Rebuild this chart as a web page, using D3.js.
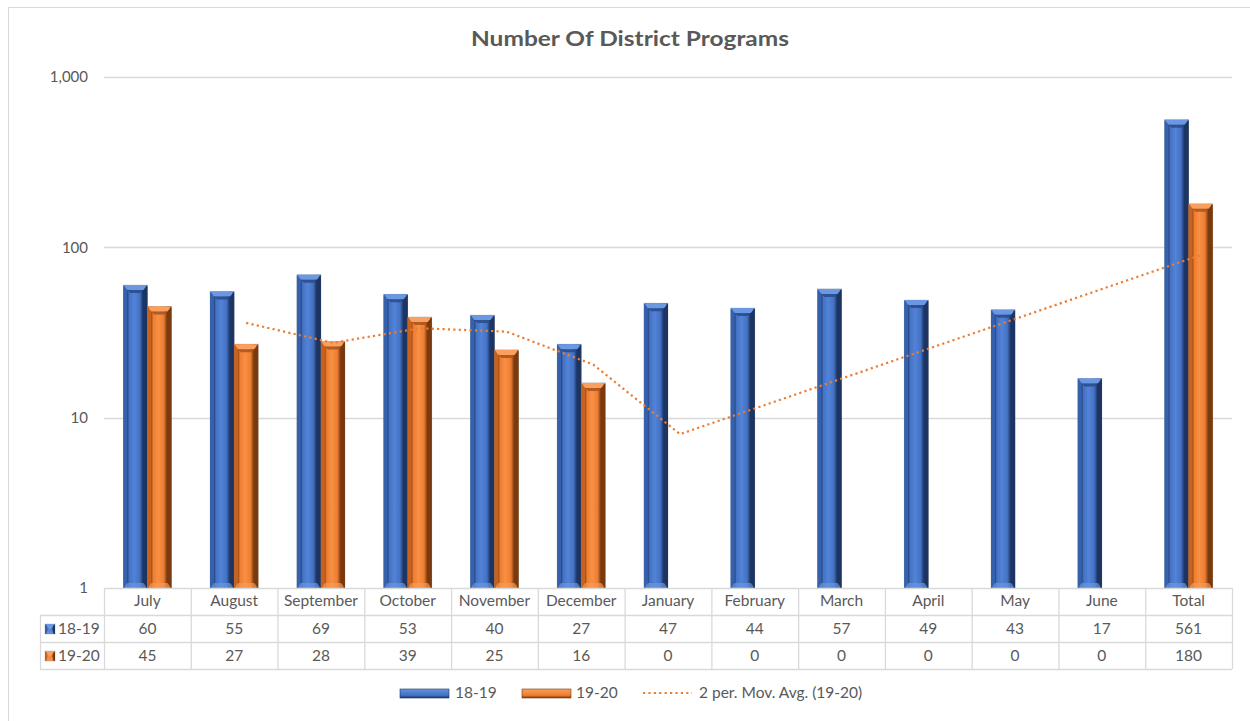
<!DOCTYPE html>
<html>
<head>
<meta charset="utf-8">
<script src="https://cdn.jsdelivr.net/npm/d3@7"></script>
<style>
  html, body { margin: 0; padding: 0; background: #fff; }
  svg text { font-family: Lato, "Liberation Sans", sans-serif; fill: #595959; }
</style>
</head>
<body>
<svg id="chart" width="1250" height="721"></svg>
<script>
// ---- data ----
const categories = ["July","August","September","October","November","December","January","February","March","April","May","June","Total"];
const series1819 = [60, 55, 69, 53, 40, 27, 47, 44, 57, 49, 43, 17, 561];
const series1920 = [45, 27, 28, 39, 25, 16, 0, 0, 0, 0, 0, 0, 180];
// 2-period moving average of 19-20 (null = no value, 0 not plottable on log axis)
const movAvg1920 = [null, 36, 27.5, 33.5, 32, 20.5, 8, 0, 0, 0, 0, 0, 90];
const yTicks = [1, 10, 100, 1000];
const seriesNames = ["18-19", "19-20"];
const trendName = "2 per. Mov. Avg. (19-20)";
const title = "Number Of District Programs";

// ---- layout ----
const svg = d3.select("#chart");
const plotLeft = 104, plotRight = 1232, plotTop = 77, plotBottom = 588;
const rowH = 27;
const tableLeft = 40;
const fs = "15.5px";

const x = d3.scaleBand().domain(categories).range([plotLeft, plotRight]).paddingInner(0).paddingOuter(0);
const y = d3.scaleLog().domain([1, 1000]).range([plotBottom, plotTop]);
const barW = x.bandwidth() * 0.277;

// outer border
svg.append("rect").attr("x", 8.5).attr("y", 7.5).attr("width", 1250).attr("height", 730)
  .attr("fill", "#fff").attr("stroke", "#d9d9d9").attr("stroke-width", 1);

// title
svg.append("text").attr("x", 630).attr("y", 46).attr("text-anchor", "middle")
  .attr("textLength", 318).attr("lengthAdjust", "spacingAndGlyphs")
  .style("font-size", "21px").style("font-weight", "bold").text(title);

// gradients
const defs = svg.append("defs");
const palettes = {
  blue:   { edgeL: "#3561ad", mid: "#4472c4", light: "#5283d6", edgeR: "#1d3563", top: "#6b98e2", inner: "#2a4a88", bottom: "#6a97e0" },
  orange: { edgeL: "#c8621f", mid: "#ed7d31", light: "#f89044", edgeR: "#7a3a0f", top: "#f9a05e", inner: "#a9521a", bottom: "#f79a55" }
};
Object.entries(palettes).forEach(([k, p]) => {
  const g = defs.append("linearGradient").attr("id", "grad-" + k).attr("x1", "0").attr("x2", "1").attr("y1", "0").attr("y2", "0");
  [[0, p.edgeL], [0.14, p.edgeL], [0.18, p.inner], [0.24, p.mid], [0.45, p.light], [0.68, p.mid], [0.82, p.edgeR], [1, p.edgeR]]
    .forEach(([o, c]) => g.append("stop").attr("offset", o).attr("stop-color", c));
});

// gridlines
const grid = svg.append("g");
grid.selectAll("line").data(yTicks.slice(1)).join("line")
  .attr("x1", plotLeft).attr("x2", plotRight)
  .attr("y1", d => Math.round(y(d)) + 0.5).attr("y2", d => Math.round(y(d)) + 0.5)
  .attr("stroke", "#d9d9d9").attr("stroke-width", 1.3);

// y axis labels
const yAxis = d3.axisLeft(y).tickValues(yTicks).tickFormat(d3.format(",")).tickSize(0).tickPadding(0);
const yg = svg.append("g").attr("transform", `translate(${88},0)`).call(yAxis);
yg.select(".domain").remove();
yg.selectAll("text").style("font-size", "15px").style("font-family", "Lato, 'Liberation Sans', sans-serif").attr("fill", "#595959");

// bevelled bar drawer
function drawBar(g, bx, by, bw, bh, p, key) {
  if (bh <= 0) return;
  const b = Math.min(5, bh / 2);
  g.append("rect").attr("x", bx).attr("y", by).attr("width", bw).attr("height", bh)
    .attr("fill", `url(#grad-${key})`).attr("stroke", "rgba(120,120,120,0.35)").attr("stroke-width", 0.8);
  // top bevel
  g.append("polygon").attr("points", [[bx, by], [bx + bw, by], [bx + bw - 4, by + b], [bx + 4, by + b]].join(" "))
    .attr("fill", p.top);
  // inner shadow under top bevel
  g.append("polygon").attr("points", [[bx + 4, by + b], [bx + bw - 4, by + b], [bx + bw - 7, by + b + 3], [bx + 7, by + b + 3]].join(" "))
    .attr("fill", p.inner).attr("opacity", 0.85);
  // bottom bevel
  g.append("polygon").attr("points", [[bx, by + bh], [bx + bw, by + bh], [bx + bw - 4, by + bh - b], [bx + 4, by + bh - b]].join(" "))
    .attr("fill", p.bottom).attr("opacity", 0.7);
  // left & right outer strips
  g.append("rect").attr("x", bx).attr("y", by + 1).attr("width", 1.5).attr("height", bh - 1).attr("fill", p.edgeL);
  g.append("rect").attr("x", bx + bw - 1.5).attr("y", by + 1).attr("width", 1.5).attr("height", bh - 1).attr("fill", p.edgeR);
}

const bars = svg.append("g");
categories.forEach((c, i) => {
  const cx = x(c) + x.bandwidth() / 2;
  const v1 = series1819[i], v2 = series1920[i];
  if (v1 > 0) drawBar(bars, cx - barW, y(v1), barW, plotBottom - y(v1), palettes.blue, "blue");
  if (v2 > 0) drawBar(bars, cx, y(v2), barW, plotBottom - y(v2), palettes.orange, "orange");
});

// moving average trendline (skip non-positive values on log axis)
const trendPts = movAvg1920.map((v, i) => ({ v, c: categories[i] })).filter(d => d.v != null && d.v > 0);
const line = d3.line().x(d => x(d.c) + x.bandwidth() / 2 + barW / 2).y(d => y(d.v));
svg.append("path").datum(trendPts).attr("d", line).attr("fill", "none")
  .attr("stroke", "#ed7d31").attr("stroke-width", 2.2).attr("stroke-dasharray", "2.2 3.2");

// ---- data table ----
const table = svg.append("g");
const rowsY = [plotBottom, plotBottom + rowH, plotBottom + 2 * rowH, plotBottom + 3 * rowH];
const lineColor = "#d9d9d9";
table.append("line").attr("x1", plotLeft).attr("x2", plotRight).attr("y1", rowsY[0] + 0.5).attr("y2", rowsY[0] + 0.5).attr("stroke", lineColor).attr("stroke-width", 1.3);
rowsY.slice(1).forEach(ry => table.append("line").attr("x1", tableLeft).attr("x2", plotRight).attr("y1", ry + 0.5).attr("y2", ry + 0.5).attr("stroke", lineColor).attr("stroke-width", 1.3));
table.append("line").attr("x1", tableLeft + 0.5).attr("x2", tableLeft + 0.5).attr("y1", rowsY[1]).attr("y2", rowsY[3]).attr("stroke", lineColor).attr("stroke-width", 1.3);
categories.concat(["__end"]).forEach((c, i) => {
  const xx = i < categories.length ? x(c) : plotRight;
  table.append("line").attr("x1", xx + 0.5).attr("x2", xx + 0.5).attr("y1", rowsY[0]).attr("y2", rowsY[3]).attr("stroke", lineColor).attr("stroke-width", 1.3);
});
table.selectAll("text.hdr").data(categories).join("text").attr("class", "hdr")
  .attr("x", d => x(d) + x.bandwidth() / 2).attr("y", rowsY[0] + 18).attr("text-anchor", "middle")
  .style("font-size", fs).text(d => d);
[series1819, series1920].forEach((s, r) => {
  table.selectAll("text.r" + r).data(s).join("text").attr("class", "r" + r)
    .attr("x", (d, i) => x(categories[i]) + x.bandwidth() / 2).attr("y", rowsY[r + 1] + 19).attr("text-anchor", "middle")
    .style("font-size", fs).text(d => d);
  const key = r === 0 ? "blue" : "orange";
  const sy = rowsY[r + 1] + 9;
  drawBar(table, 45, sy, 10, 10, palettes[key], key);
  table.append("text").attr("x", 58).attr("y", rowsY[r + 1] + 19).style("font-size", fs).text(seriesNames[r]);
});

// ---- legend ----
const leg = svg.append("g");
const ly = 693;
function legendSwatch(lx, key) {
  const p = palettes[key];
  const g2 = defs.append("linearGradient").attr("id", "lg-" + key).attr("x1", 0).attr("x2", 0).attr("y1", 0).attr("y2", 1);
  [[0, p.top], [0.3, p.light], [0.7, p.mid], [1, p.edgeR]].forEach(([o, c]) => g2.append("stop").attr("offset", o).attr("stop-color", c));
  leg.append("rect").attr("x", lx).attr("y", ly - 4).attr("width", 49).attr("height", 9).attr("fill", `url(#lg-${key})`)
    .attr("stroke", p.edgeR).attr("stroke-width", 0.6);
}
legendSwatch(400, "blue");
leg.append("text").attr("x", 455).attr("y", ly + 5).style("font-size", fs).text(seriesNames[0]);
legendSwatch(522, "orange");
leg.append("text").attr("x", 576).attr("y", ly + 5).style("font-size", fs).text(seriesNames[1]);
leg.append("line").attr("x1", 643).attr("x2", 692).attr("y1", ly).attr("y2", ly)
  .attr("stroke", "#ed7d31").attr("stroke-width", 2.2).attr("stroke-dasharray", "2.2 3.2");
leg.append("text").attr("x", 699).attr("y", ly + 5).style("font-size", fs).text(trendName);
</script>
</body>
</html>
